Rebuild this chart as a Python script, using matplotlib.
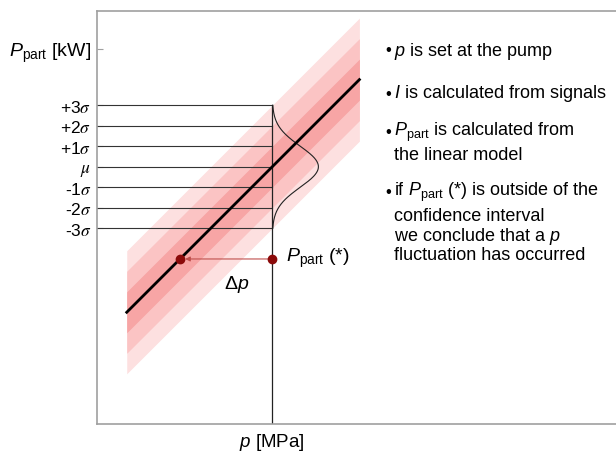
import numpy as np
import matplotlib
matplotlib.use('Agg')
import matplotlib.pyplot as plt

plt.rcParams['font.family'] = ['Liberation Sans', 'DejaVu Sans']
plt.rcParams['mathtext.fontset'] = 'custom'
plt.rcParams['mathtext.rm'] = 'Liberation Sans'
plt.rcParams['mathtext.it'] = 'Liberation Sans:italic'
plt.rcParams['mathtext.bf'] = 'Liberation Sans:bold'

# schematic linear model P_part = intercept + slope * p
slope = 1.0
intercept = 4.0
sigma = 1.0
p_set = 8.55
p_range = [1.45, 12.8]
P_star = 8.05
gauss_amp = 2.25
P_label_level = 18.3

sigma_levels = [3, 2, 1, 0, -1, -2, -3]
sigma_labels = ['+3$\\sigma$', '+2$\\sigma$', '+1$\\sigma$', '$\\mu$',
                '-1$\\sigma$', '-2$\\sigma$', '-3$\\sigma$']
band_colors = ['#fde0e0', '#fbc4c4', '#f7a5a5']  # 3, 2, 1 sigma

bullets = [
    ['$p$ is set at the pump'],
    ['$I$ is calculated from signals'],
    ['$P_{\\rm part}$ is calculated from', 'the linear model'],
    ['if $P_{\\rm part}$ (*) is outside of the', 'confidence interval',
     'we conclude that a $p$', 'fluctuation has occurred'],
]

W, H = 616, 452
px = 20.5  # pixels per data unit
fig = plt.figure(figsize=(W / 100, H / 100), dpi=100)
ax = fig.add_axes([97 / W, 27 / H, 523 / W, 413 / H])
ax.set_xlim(0, 523 / px)
ax.set_ylim(0, 413 / px)

mu = intercept + slope * p_set
x = np.linspace(p_range[0], p_range[1], 200)
yline = intercept + slope * x

# confidence bands
for k, c in zip([3, 2, 1], band_colors):
    ax.fill_between(x, yline - k * sigma, yline + k * sigma, color=c, lw=0, zorder=1)

# sigma level lines
for k in sigma_levels:
    ax.plot([0, p_set], [mu + k * sigma] * 2, color='#333333', lw=0.8, zorder=2)

# vertical line at p
ax.plot([p_set, p_set], [0, mu + 3 * sigma], color='#222222', lw=0.9, zorder=2)

# gaussian
yy = np.linspace(mu - 3 * sigma, mu + 3 * sigma, 200)
gx = p_set + gauss_amp * np.exp(-0.5 * ((yy - mu) / sigma) ** 2)
ax.plot(gx, yy, color='#222222', lw=0.8, zorder=3)

# regression line
ax.plot(x, yline, color='black', lw=2, zorder=4)

# measured point and shift
p_left = (P_star - intercept) / slope
ax.annotate('', xy=(p_left + 0.25, P_star), xytext=(p_set - 0.2, P_star),
            arrowprops=dict(arrowstyle='-|>', color='#c0504d', lw=0.8,
                            mutation_scale=7, shrinkA=0, shrinkB=0), zorder=5)
ax.plot([p_left, p_set], [P_star, P_star], 'o', color='#8b0a0a', ms=6, zorder=6)
ax.text(p_set + 0.65, P_star + 0.1, '$P_{\\rm part}$ (*)', fontsize=14,
        va='center', ha='left')
ax.text(p_left + 2.75, P_star - 1.2, '$\\Delta p$', fontsize=14,
        va='center', ha='center')

# axes styling
for s in ['left', 'bottom', 'top']:
    ax.spines[s].set_color('#a0a0a0')
    ax.spines[s].set_linewidth(1.2)
ax.spines['right'].set_visible(False)

ax.set_yticks([P_label_level] + [mu + k * sigma for k in sigma_levels])
ax.set_yticklabels(['$P_{\\rm part}$ [kW]'] + sigma_labels)
ax.tick_params(axis='y', direction='in', length=4, color='#a0a0a0', pad=4)
for i, lbl in enumerate(ax.get_yticklabels()):
    if i == 0:
        lbl.set_fontsize(14)
    else:
        lbl.set_fontsize(12.5)
        lbl.set_math_fontfamily('stix')
ax.set_xticks([p_set])
ax.set_xticklabels(['$p$ [MPa]'], fontsize=13.5)
ax.tick_params(axis='x', length=0, pad=5)

# bullet text on the right
line_y = [[51], [94], [132, 155], [192, 217, 237, 256]]
for lines, ys in zip(bullets, line_y):
    fig.text(385 / W, 1 - ys[0] / H, '\u2022', fontsize=12, va='center', ha='left')
    for t, yv in zip(lines, ys):
        fig.text(394 / W, 1 - yv / H, t, fontsize=13, va='center', ha='left')

fig.savefig('out.png', dpi=100)
